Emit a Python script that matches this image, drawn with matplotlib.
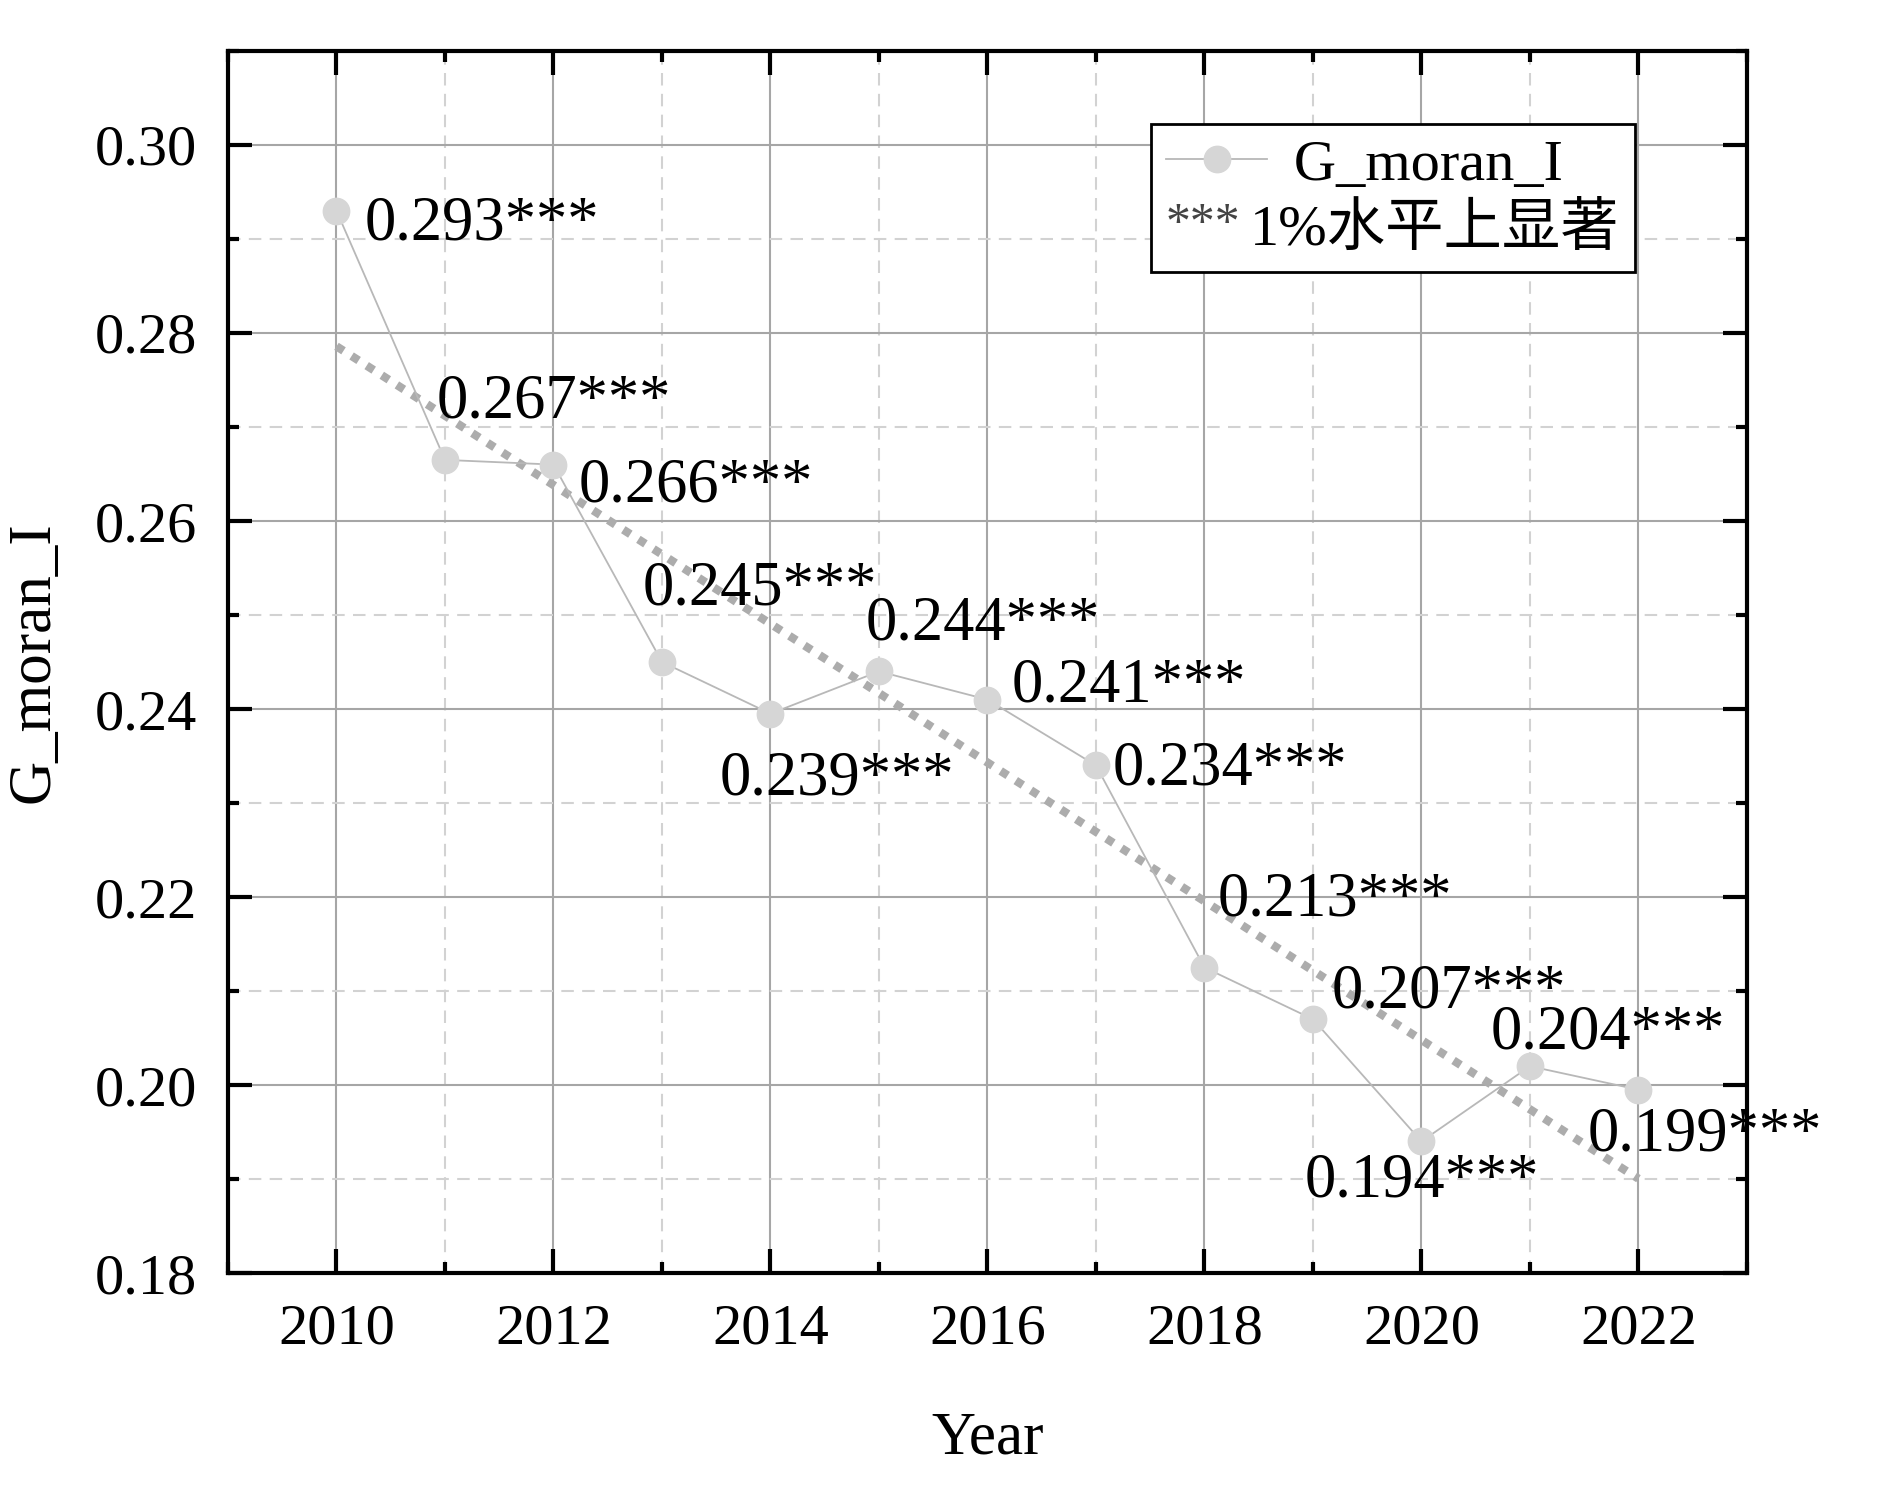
import numpy as np
import matplotlib
matplotlib.use('Agg')
import matplotlib.pyplot as plt
from matplotlib.ticker import MultipleLocator, FormatStrFormatter
from matplotlib.legend_handler import HandlerBase
from matplotlib.text import Text
from matplotlib.lines import Line2D

plt.rcParams['font.family'] = ['Liberation Serif', 'Noto Sans CJK SC']

years = [2010, 2011, 2012, 2013, 2014, 2015, 2016, 2017, 2018, 2019, 2020, 2021, 2022]
moran = [0.293, 0.2665, 0.266, 0.245, 0.2395, 0.244, 0.241, 0.234, 0.2125, 0.207, 0.194, 0.202, 0.1995]
labels = ['0.293***', '0.267***', '0.266***', '0.245***', '0.239***', '0.244***', '0.241***',
          '0.234***', '0.213***', '0.207***', '0.194***', '0.204***', '0.199***']
# label offsets in pixels (dx, dy) from the point
offsets = [(28, -14), (-8, 57), (25, -22), (-19, 73), (-51, -66), (-13, 47), (24, 13),
           (17, -4), (13, 67), (19, 27), (-117, -40), (-39, 33), (-51, -46)]


class StarHandler(HandlerBase):
    def create_artists(self, legend, orig_handle, xdescent, ydescent, width, height, fontsize, trans):
        t = Text(x=-xdescent, y=height / 2 - ydescent, text='***', fontsize=fontsize * 0.85,
                 va='center', ha='left', color='#444444', transform=trans)
        return [t]


class LongLineHandler(HandlerBase):
    # line handle that runs on under the (space padded) label
    def create_artists(self, legend, orig_handle, xdescent, ydescent, width, height, fontsize, trans):
        w = width * 1.45
        yc = height / 2 - ydescent
        ln = Line2D([-xdescent, -xdescent + w], [yc, yc], color=orig_handle.get_color(),
                    lw=orig_handle.get_linewidth(), transform=trans)
        mk = Line2D([-xdescent + w / 2], [yc], marker='o', markersize=orig_handle.get_markersize(),
                    markerfacecolor=orig_handle.get_markerfacecolor(),
                    markeredgecolor=orig_handle.get_markeredgecolor(), linestyle='none',
                    transform=trans)
        return [ln, mk]


fig = plt.figure(figsize=(18.89, 14.91), dpi=100)
ax = fig.add_axes([0.1207, 0.1462, 0.8041, 0.8196])

x = np.array(years)
y = np.array(moran)
line, = ax.plot(x, y, color='#b8b8b8', lw=1.3, marker='o', markersize=19,
                markerfacecolor='#d6d6d6', markeredgecolor='#d6d6d6', zorder=4)

k, b = np.polyfit(x, [float(l[:5]) for l in labels], 1)
ax.plot(x, k * x + b, color='#acacac', lw=6, linestyle=(0, (1, 1.15)), zorder=3)

for xi, yi, lab, (dx, dy) in zip(years, moran, labels, offsets):
    ax.annotate(lab, (xi, yi), xytext=(dx, dy), textcoords='offset pixels',
                fontsize=45, ha='left', va='center', zorder=5)

ax.set_xlim(2009, 2023)
ax.set_ylim(0.18, 0.31)
ax.xaxis.set_major_locator(MultipleLocator(2))
ax.xaxis.set_minor_locator(MultipleLocator(1))
ax.yaxis.set_major_locator(MultipleLocator(0.02))
ax.yaxis.set_minor_locator(MultipleLocator(0.01))
ax.yaxis.set_major_formatter(FormatStrFormatter('%.2f'))

ax.grid(which='major', color='#a6a6a6', lw=1.5, linestyle='-', zorder=0)
ax.grid(which='minor', color='#d2d2d2', lw=1.5, linestyle=(0, (6, 4)), zorder=0)
ax.set_axisbelow(True)

ax.tick_params(which='both', direction='in', top=True, right=True, width=3, labelsize=42)
ax.tick_params(which='major', length=17, pad=22)
ax.tick_params(which='minor', length=8)
for s in ax.spines.values():
    s.set_linewidth(3)

ax.set_xlabel('Year', fontsize=44, labelpad=40)
ax.set_ylabel('G_moran_I', fontsize=44, labelpad=24)

star = Line2D([], [])
leg = ax.legend([line, star], ['   G_moran_I', '1%水平上显著'],
                handler_map={line: LongLineHandler(), star: StarHandler()},
                loc='upper right', bbox_to_anchor=(0.926, 0.940), borderaxespad=0,
                fontsize=42, handlelength=1.2, fancybox=False, edgecolor='black',
                framealpha=1, borderpad=0.25, labelspacing=0.2, handletextpad=0.25)
leg.get_frame().set_linewidth(2)

fig.savefig('out.png', dpi=100)
